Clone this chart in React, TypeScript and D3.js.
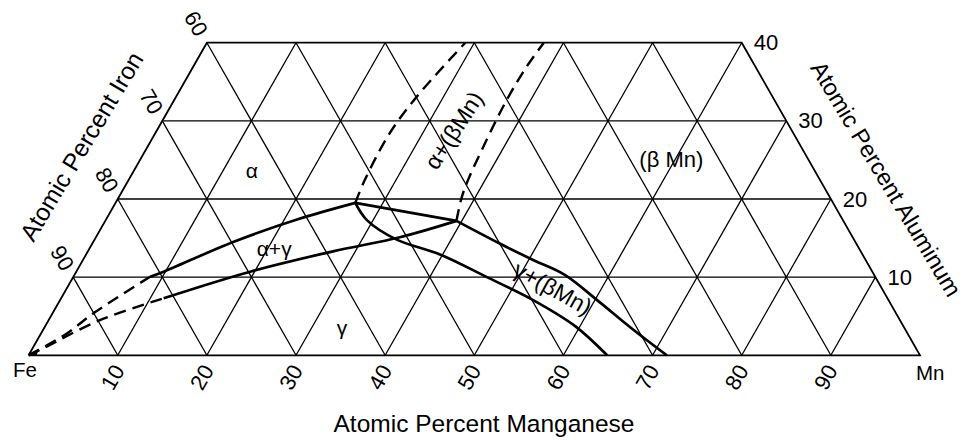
import React from 'react'
import * as d3 from 'd3'

const width = 971
const height = 440

// tick values on the three sides
const mnTicks = [10, 20, 30, 40, 50, 60, 70, 80, 90]
const feTicks = [60, 70, 80, 90]
const alTicks = [10, 20, 30, 40]
const gridSteps = [10, 20, 30, 40, 50, 60, 70, 80, 90]

// phase boundaries as [at.% Mn, at.% Al]
const alphaUpperSolid: [number, number][] = [[8.6, 10.06], [9.8, 10.7], [15.7, 14.5], [21.5, 17.4], [26.9, 19.5]]
const alphaUpperDashed: [number, number][] = [[0, 0], [2.9, 2.8], [4.6, 5.4], [8.6, 10.06]]
const gammaLowerSolid: [number, number][] = [[11.5, 7.3], [19.5, 10.7], [27.5, 13.3], [34.1, 15.1], [39.4, 17.2]]
const gammaLowerDashed: [number, number][] = [[0, 0], [1.2, 0.9], [5.75, 4.5], [11.5, 7.3]]
const peakToCorner: [number, number][] = [[26.9, 19.5], [39.4, 17.2]]
const gammaBetaLower: [number, number][] = [[26.9, 19.5], [29.3, 17.3], [33.9, 14.8], [39.7, 12.9], [46.2, 10.1], [53.4, 6.9], [59.5, 3.7], [64.9, 0]]
const gammaBetaUpper: [number, number][] = [[39.4, 17.2], [45.7, 14.3], [50.5, 12.2], [55.0, 10.3], [60.5, 6.9], [66.0, 3.4], [71.6, 0]]
const alphaBetaLeft: [number, number][] = [[26.9, 19.5], [26.5, 22.4], [26.3, 28.4], [27.0, 33.1], [29.0, 40]]
const alphaBetaRight: [number, number][] = [[39.4, 17.2], [38.35, 20.8], [37.6, 27.6], [37.3, 32.7], [37.4, 36.9], [37.8, 40]]

// region labels: text, [Mn, Al], rotation, size
const regionLabels: { text: string; at: [number, number]; rotate: number; size: number }[] = [
  { text: 'α', at: [13.2, 23.7], rotate: 0, size: 21 },
  { text: 'α+(βMn)', at: [33.3, 28.8], rotate: -57, size: 23 },
  { text: '(β Mn)', at: [59.6, 25.0], rotate: 0, size: 22 },
  { text: 'α+γ', at: [20.7, 13.7], rotate: 0, size: 21 },
  { text: 'γ', at: [33.4, 3.5], rotate: 0, size: 21 },
  { text: 'γ+(βMn)', at: [54.5, 8.6], rotate: 29, size: 23 }
]

const font = '"Liberation Sans", Arial, Helvetica, sans-serif'

const App: React.FC = () => {
  const xScale = d3.scaleLinear().domain([0, 100]).range([28.6, 920])
  const yScale = d3.scaleLinear().domain([0, 40]).range([355.3, 42.7])
  const proj = ([mn, al]: [number, number]): [number, number] => [xScale(mn + al / 2), yScale(al)]

  const smooth = d3.line<[number, number]>()
    .x(d => proj(d)[0])
    .y(d => proj(d)[1])
    .curve(d3.curveCatmullRom.alpha(0.5))
  const straight = d3.line<[number, number]>()
    .x(d => proj(d)[0])
    .y(d => proj(d)[1])

  // grid segments
  const grid: [number, number][][] = []
  ;[10, 20, 30].forEach(a => grid.push([[0, a], [100 - a, a]]))
  gridSteps.forEach(m => grid.push([[m, 0], [m, Math.min(40, 100 - m)]]))
  gridSteps.forEach(s => {
    const top = Math.min(40, s)
    grid.push([[s, 0], [s - top, top]])
  })
  const frame: [number, number][] = [[0, 0], [100, 0], [60, 40], [0, 40], [0, 0]]

  const solid = [alphaUpperSolid, gammaLowerSolid, gammaBetaLower, gammaBetaUpper]
  const dashed = [alphaUpperDashed, gammaLowerDashed, alphaBetaLeft, alphaBetaRight]

  const fe = proj([0, 0])

  return (
    <svg width={width} height={height} style={{ position: 'absolute', left: 0, top: 0, background: '#fff' }}>
      <g fill="none" stroke="#000">
        {grid.map((seg, i) => (
          <path key={'g' + i} d={straight(seg) || ''} strokeWidth={1.3} />
        ))}
        <path d={straight(frame) || ''} strokeWidth={1.8} strokeLinejoin="miter" />
        {solid.map((c, i) => (
          <path key={'s' + i} d={smooth(c) || ''} strokeWidth={2.7} />
        ))}
        <path d={straight(peakToCorner) || ''} strokeWidth={2.7} />
        {dashed.map((c, i) => (
          <path key={'d' + i} d={smooth(c) || ''} strokeWidth={2.4} strokeDasharray="12 7" />
        ))}
      </g>
      {/* arrow tip at Fe corner */}
      <path d={`M${fe[0]},${fe[1]} l10,-6 l-2,6 z`} fill="#000" />

      <g fontFamily={font} fill="#000">
        {mnTicks.map(m => {
          const [x, y] = proj([m, 0])
          return (
            <text key={'mn' + m} transform={`translate(${x - 5},${y + 22}) rotate(-60)`} textAnchor="middle" dominantBaseline="central" fontSize={22}>{m}</text>
          )
        })}
        {feTicks.map(f => {
          const [x, y] = proj([0, 100 - f])
          return (
            <text key={'fe' + f} transform={`translate(${x - 11},${y - 19}) rotate(60)`} textAnchor="middle" dominantBaseline="central" fontSize={22}>{f}</text>
          )
        })}
        {alTicks.map(a => {
          const [x, y] = proj([100 - a, a])
          return (
            <text key={'al' + a} x={x + 12} y={y} dominantBaseline="central" fontSize={22}>{a}</text>
          )
        })}
        <text x={13} y={377} fontSize={20.5}>Fe</text>
        <text x={916} y={380} fontSize={20.5}>Mn</text>
        <text x={484} y={432} textAnchor="middle" fontSize={24.5}>Atomic Percent Manganese</text>
        <text transform="translate(81.5,146.5) rotate(-59)" textAnchor="middle" dominantBaseline="central" fontSize={24.5}>Atomic Percent Iron</text>
        <text transform="translate(886,179) rotate(59)" textAnchor="middle" dominantBaseline="central" fontSize={23.5}>Atomic Percent Aluminum</text>
        {regionLabels.map(l => {
          const [x, y] = proj(l.at)
          return (
            <text key={l.text} transform={`translate(${x},${y}) rotate(${l.rotate})`} textAnchor="middle" dominantBaseline="central" fontSize={l.size}>{l.text}</text>
          )
        })}
      </g>
    </svg>
  )
}

export default App
